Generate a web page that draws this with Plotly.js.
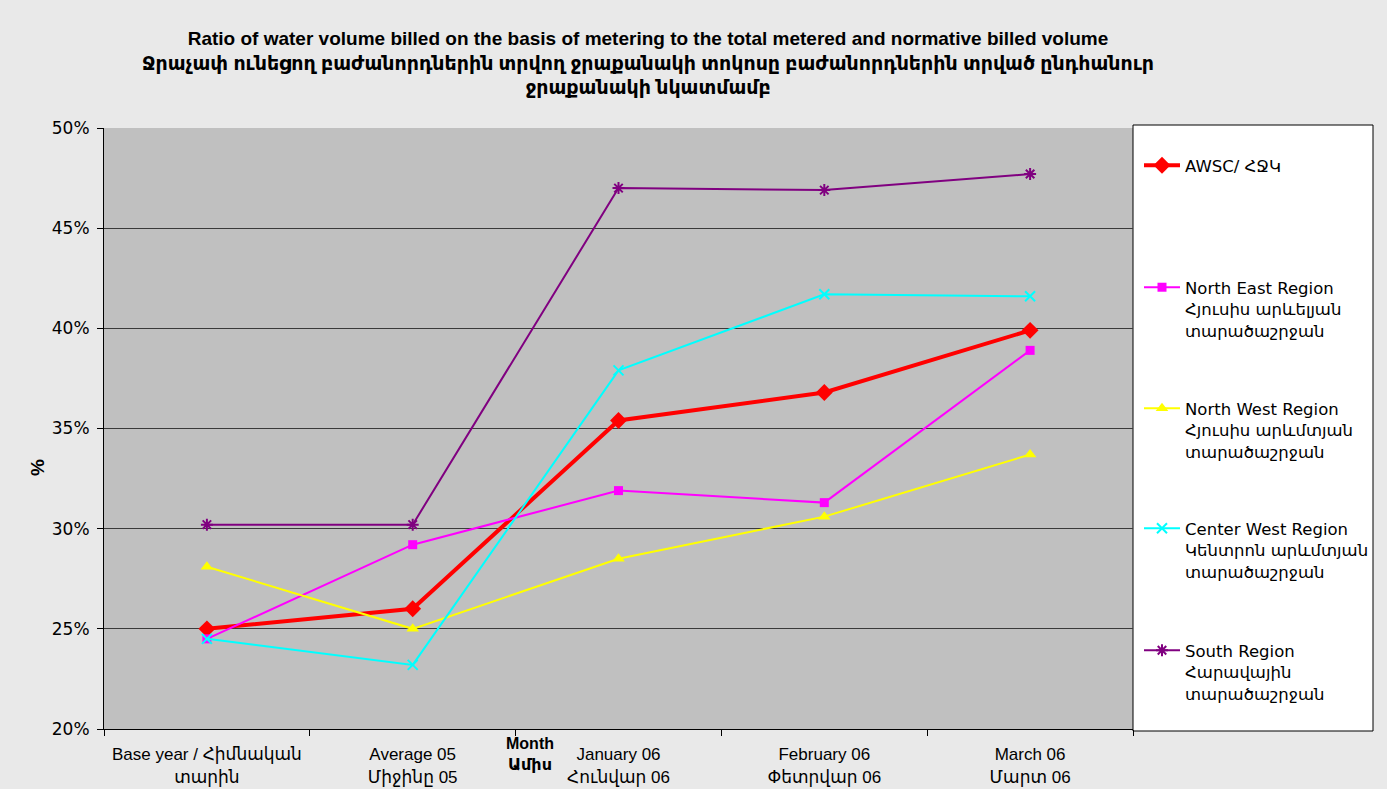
<!DOCTYPE html>
<html>
<head>
<meta charset="utf-8">
<script src="https://cdn.plot.ly/plotly-3.0.1.min.js"></script>
<style>
html,body{margin:0;padding:0;background:#e9e9e9;}
#chart{width:1387px;height:789px;}
</style>
</head>
<body>
<div id="chart"></div>
<script>
const categories = [
  "Base year / Հիմնական<br>տարին",
  "Average 05<br>Միջինը 05",
  "January 06<br>Հունվար 06",
  "February 06<br>Փետրվար 06",
  "March 06<br>Մարտ 06"
];
const seriesNames = [
  "AWSC/ ՀՋԿ",
  "North East Region<br>Հյուսիս արևելյան<br>տարածաշրջան",
  "North West Region<br>Հյուսիս արևմտյան<br>տարածաշրջան",
  "Center West Region<br>Կենտրոն արևմտյան<br>տարածաշրջան",
  "South Region<br>Հարավային<br>տարածաշրջան"
];
const awsc       = [0.250, 0.260, 0.354, 0.368, 0.399];
const northEast  = [0.245, 0.292, 0.319, 0.313, 0.389];
const northWest  = [0.281, 0.250, 0.285, 0.306, 0.337];
const centerWest = [0.245, 0.232, 0.379, 0.417, 0.416];
const south      = [0.302, 0.302, 0.470, 0.469, 0.477];
const yTicks = [0.20, 0.25, 0.30, 0.35, 0.40, 0.45, 0.50];

const mainFont = "Liberation Sans, Arial, DejaVu Sans, sans-serif";
const legFont = "DejaVu Sans, Verdana, sans-serif";

const traces = [
  {y: awsc, name: seriesNames[0], line:{color:'#ff0000', width:4},
   marker:{symbol:'diamond', size:13, color:'#ff0000'}, legend:'legend'},
  {y: northEast, name: seriesNames[1], line:{color:'#ff00ff', width:2},
   marker:{symbol:'square', size:9, color:'#ff00ff'}, legend:'legend2'},
  {y: northWest, name: seriesNames[2], line:{color:'#ffff00', width:2},
   marker:{symbol:'triangle-up', size:11, color:'#ffff00'}, legend:'legend3'},
  {y: centerWest, name: seriesNames[3], line:{color:'#00ffff', width:2},
   marker:{symbol:'x-thin', size:10, color:'#00ffff', line:{color:'#00ffff', width:2}}, legend:'legend4'},
  {y: south, name: seriesNames[4], line:{color:'#800080', width:2},
   marker:{symbol:'asterisk', size:10, color:'#800080', line:{color:'#800080', width:2}}, legend:'legend5'}
].map(t => Object.assign({type:'scatter', mode:'lines+markers', x: categories}, t));

const plotTop = 128, plotBottom = 729, plotLeft = 104, plotRight = 1133;
const pyToPaper = py => (plotBottom - py) / (plotBottom - plotTop);
const pxToPaper = px => (px - plotLeft) / (plotRight - plotLeft);

const legendCenters = [165, 287, 408, 528, 650];
const legendBase = {
  bgcolor:'rgba(0,0,0,0)', borderwidth:0,
  font:{family:legFont, size:16.5, color:'#000'},
  xanchor:'left', yanchor:'top', valign:'top', itemwidth:36,
  x: pxToPaper(1139)
};
const legends = {};
['legend','legend2','legend3','legend4','legend5'].forEach((k,i)=>{
  legends[k] = Object.assign({}, legendBase, {y: pyToPaper(legendCenters[i]-17)});
});

const layout = Object.assign({
  width:1387, height:789,
  paper_bgcolor:'#e9e9e9',
  plot_bgcolor:'#c0c0c0',
  margin:{l:plotLeft, r:1387-plotRight, t:plotTop, b:789-plotBottom},
  title:{
    text:'<b>Ratio of water volume billed on the basis of metering to the total metered and normative billed volume<br>Ջրաչափ ունեցող բաժանորդներին տրվող ջրաքանակի տոկոսը բաժանորդներին տրված ընդհանուր<br>ջրաքանակի նկատմամբ</b>',
    font:{family:mainFont, size:19, color:'#000'},
    x: 648/1387, xanchor:'center', xref:'container',
    y: 1 - 45/789, yanchor:'top', yref:'container'
  },
  xaxis:{
    type:'category', categoryorder:'array', categoryarray:categories,
    range:[-0.5, 4.5], tickson:'boundaries', tickangle:0,
    ticks:'outside', ticklen:6, tickcolor:'#000',
    showline:true, linecolor:'#000', linewidth:1,
    showgrid:false, zeroline:false, ticklabelstandoff:10,
    tickfont:{family:mainFont, size:17, color:'#000'}
  },
  yaxis:{
    range:[0.20, 0.50], tickvals:yTicks, tickformat:'.0%',
    ticks:'outside', ticklen:6, tickcolor:'#000',
    showline:true, linecolor:'#000', linewidth:1,
    showgrid:true, gridcolor:'#3a3a3a', gridwidth:1, zeroline:false,
    ticklabelstandoff:4,
    tickfont:{family:legFont, size:17, color:'#000'}
  },
  showlegend:true,
  shapes:[{
    type:'rect', xref:'paper', yref:'paper', layer:'below',
    x0: pxToPaper(1133), x1: pxToPaper(1373),
    y0: pyToPaper(731), y1: pyToPaper(125),
    fillcolor:'#ffffff', line:{color:'#000', width:1}
  }],
  annotations:[
    {text:'<b>Month<br>Ամիս</b>', xref:'paper', yref:'paper',
     x: pxToPaper(530), y: pyToPaper(754), xanchor:'center', yanchor:'middle',
     showarrow:false, font:{family:mainFont, size:16, color:'#000'}},
    {text:'<b>%</b>', xref:'paper', yref:'paper', textangle:-90,
     x: pxToPaper(38), y: pyToPaper(468), xanchor:'center', yanchor:'middle',
     showarrow:false, font:{family:mainFont, size:19, color:'#000'}}
  ]
}, legends);

Plotly.newPlot('chart', traces, layout, {displayModeBar:false, responsive:false});
</script>
</body>
</html>
